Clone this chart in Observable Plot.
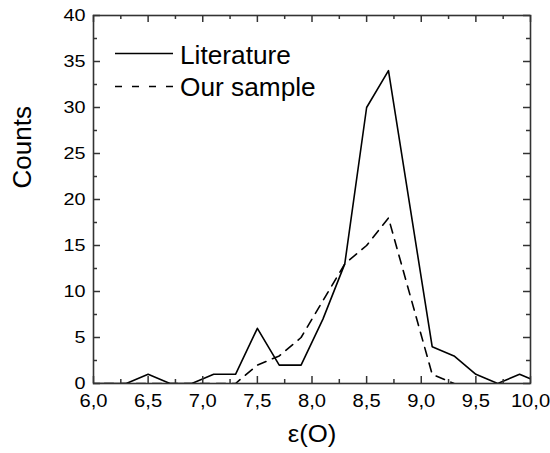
<!DOCTYPE html>
<html><head><meta charset="utf-8">
<script src="https://cdn.jsdelivr.net/npm/d3@7"></script>
<script src="https://cdn.jsdelivr.net/npm/@observablehq/plot@0.6"></script>
<style>
body{margin:0;background:#fff;}
#wrap{position:relative;width:550px;height:453px;font-family:"Liberation Sans",Arial,Helvetica,sans-serif;}
#legend{position:absolute;left:0;top:0;}
</style></head><body><div id="wrap"></div>
<script>
// ---- data ----
const seriesNames = ["Literature", "Our sample"];
const xLit = [5.9, 6.1, 6.3, 6.5, 6.7, 6.9, 7.1, 7.3, 7.5, 7.7, 7.9, 8.1, 8.3, 8.5, 8.7, 8.9, 9.1, 9.3, 9.5, 9.7, 9.9, 10.1];
const yLit = [0, 0, 0, 1, 0, 0, 1, 1, 6, 2, 2, 7, 13, 30, 34, 19, 4, 3, 1, 0, 1, 0];
const xOur = [6.1, 6.3, 6.5, 6.7, 6.9, 7.1, 7.3, 7.5, 7.7, 7.9, 8.1, 8.3, 8.5, 8.7, 8.9, 9.1, 9.3];
const yOur = [0, 0, 0, 0, 0, 0, 0, 2, 3, 5, 9, 13, 15, 18, 9.5, 1, 0];
const xMajor = [6, 6.5, 7, 7.5, 8, 8.5, 9, 9.5, 10];
const xMinor = [6.25, 6.75, 7.25, 7.75, 8.25, 8.75, 9.25, 9.75];
const yMajor = [0, 5, 10, 15, 20, 25, 30, 35, 40];
const yMinor = [2.5, 7.5, 12.5, 17.5, 22.5, 27.5, 32.5, 37.5];
const xTitle = "ε(O)";
const yTitle = "Counts";

// ---- layout ----
const W = 550, H = 453, mL = 93, mR = 20, mT = 15, mB = 70;
const pw = W - mL - mR, ph = H - mT - mB;
const FONT = '"Liberation Sans", Arial, Helvetica, sans-serif';
const axisColor = "#333";
const fmt = d => d.toFixed(1).replace(".", ",");

const lit = xLit.map((x, i) => ({x, y: yLit[i]}));
const our = xOur.map((x, i) => ({x, y: yOur[i]}));

const plot = Plot.plot({
  width: W, height: H,
  marginLeft: mL, marginRight: mR, marginTop: mT, marginBottom: mB,
  style: {fontFamily: FONT, fontSize: "16px", background: "white", color: "black"},
  x: {domain: [6, 10]},
  y: {domain: [0, 40]},
  marks: [
    Plot.line(lit, {x: "x", y: "y", stroke: "black", strokeWidth: 1.6, clip: true}),
    Plot.line(our, {x: "x", y: "y", stroke: "black", strokeWidth: 1.6, strokeDasharray: "9,7", clip: true}),
    // inward ticks on all four sides
    Plot.tickX(xMajor, {x: d => d, insetTop: ph - 7, stroke: axisColor, strokeWidth: 1.5}),
    Plot.tickX(xMinor, {x: d => d, insetTop: ph - 4, stroke: axisColor, strokeWidth: 1.5}),
    Plot.tickX(xMajor, {x: d => d, insetBottom: ph - 7, stroke: axisColor, strokeWidth: 1.5}),
    Plot.tickX(xMinor, {x: d => d, insetBottom: ph - 4, stroke: axisColor, strokeWidth: 1.5}),
    Plot.tickY(yMajor, {y: d => d, insetRight: pw - 7, stroke: axisColor, strokeWidth: 1.5}),
    Plot.tickY(yMinor, {y: d => d, insetRight: pw - 4, stroke: axisColor, strokeWidth: 1.5}),
    Plot.tickY(yMajor, {y: d => d, insetLeft: pw - 7, stroke: axisColor, strokeWidth: 1.5}),
    Plot.tickY(yMinor, {y: d => d, insetLeft: pw - 4, stroke: axisColor, strokeWidth: 1.5}),
    Plot.frame({stroke: axisColor, strokeWidth: 1.6}),
    Plot.axisX(xMajor, {tickSize: 0, tickPadding: 11, tickFormat: fmt, label: null, fontSize: 18}),
    Plot.axisY(yMajor, {tickSize: 0, tickPadding: 8, label: null, fontSize: 16.5}),
    Plot.text([xTitle], {text: d => d, frameAnchor: "bottom", dy: 58, fontSize: 23}),
    Plot.text([yTitle], {text: d => d, frameAnchor: "left", dx: -71, dy: -11, rotate: -90, fontSize: 26})
  ]
});

const wrap = document.getElementById("wrap");
wrap.appendChild(plot);

// legend overlay
const ns = "http://www.w3.org/2000/svg";
const leg = document.createElementNS(ns, "svg");
leg.setAttribute("id", "legend");
leg.setAttribute("width", W);
leg.setAttribute("height", H);
const legItems = [
  {name: seriesNames[0], dash: null, y: 53.5, base: 63.5},
  {name: seriesNames[1], dash: "7,10", y: 86.5, base: 95.5}
];
legItems.forEach(it => {
  const l = document.createElementNS(ns, "line");
  l.setAttribute("x1", 115); l.setAttribute("x2", 173);
  l.setAttribute("y1", it.y); l.setAttribute("y2", it.y);
  l.setAttribute("stroke", "black"); l.setAttribute("stroke-width", 1.6);
  if (it.dash) l.setAttribute("stroke-dasharray", it.dash);
  leg.appendChild(l);
  const t = document.createElementNS(ns, "text");
  t.setAttribute("x", 180); t.setAttribute("y", it.base);
  t.setAttribute("font-size", 25);
  t.setAttribute("font-family", FONT);
  t.setAttribute("fill", "black");
  t.setAttribute("class", "leg");
  t.textContent = it.name;
  leg.appendChild(t);
});
wrap.appendChild(leg);

// slightly wide lettering, as in the reference
function stretch(el, k) {
  const len = el.getComputedTextLength();
  if (len > 0) {
    el.setAttribute("textLength", (len * k).toFixed(2));
    el.setAttribute("lengthAdjust", "spacingAndGlyphs");
  }
}
plot.querySelectorAll('g[aria-label="x-axis tick label"] text').forEach(el => stretch(el, 1.12));
plot.querySelectorAll('g[aria-label="y-axis tick label"] text').forEach(el => stretch(el, 1.2));
plot.querySelectorAll('g[aria-label="text"] text').forEach(el => {
  if (el.textContent === xTitle) stretch(el, 1.12);
});
leg.querySelectorAll("text.leg").forEach(el => stretch(el, 1.05));
</script>
</body></html>
